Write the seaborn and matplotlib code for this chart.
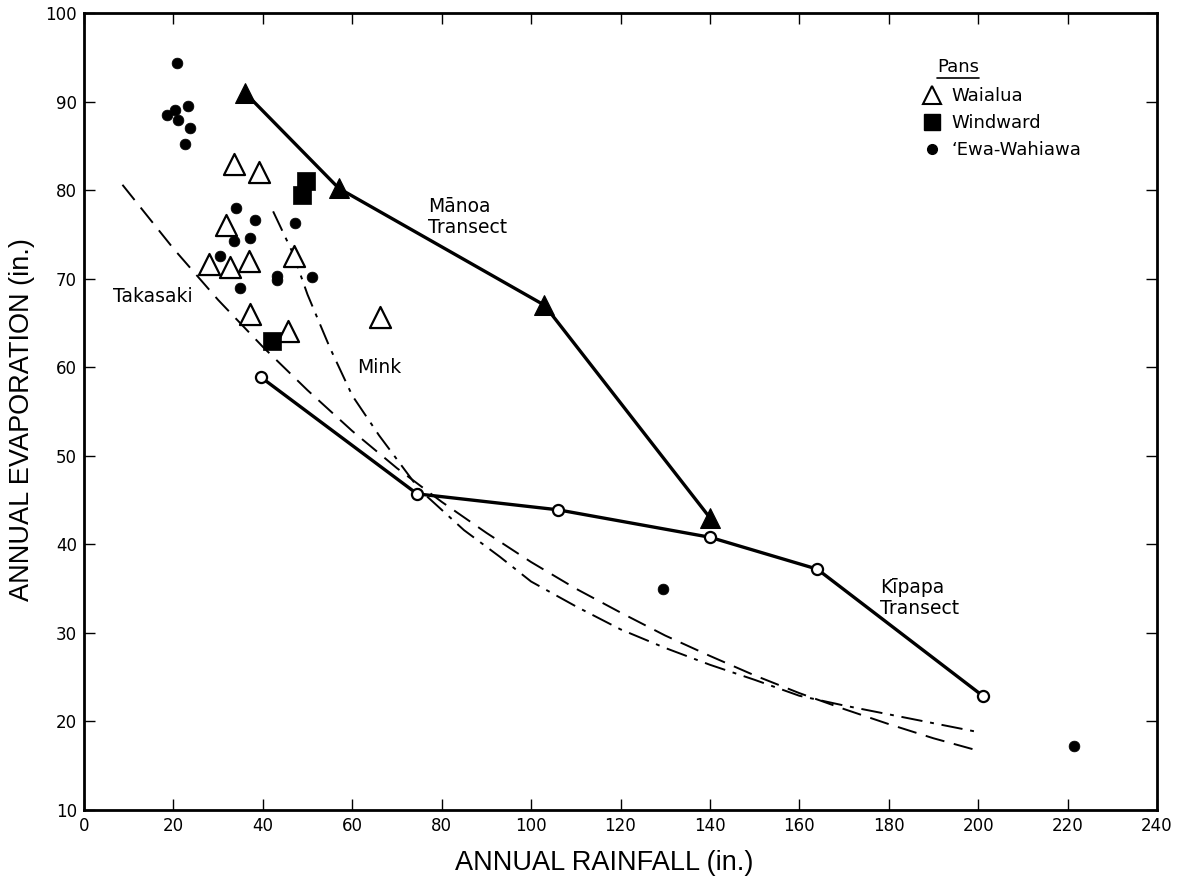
import matplotlib
matplotlib.use("Agg")
import matplotlib.pyplot as plt
import seaborn as sns
from matplotlib.lines import Line2D
from matplotlib import font_manager

# ---------------- data ----------------
manoa_rain = [36, 57, 103, 140]
manoa_evap = [91.0, 80.2, 67.0, 43.0]

kipapa_rain = [39.5, 74.5, 106, 140, 164, 201]
kipapa_evap = [58.9, 45.7, 43.9, 40.8, 37.2, 22.9]

waialua_rain = [33.6, 39.1, 31.8, 27.9, 32.6, 36.9, 46.9, 37.1, 45.6, 66.1]
waialua_evap = [83.0, 82.0, 76.1, 71.6, 71.3, 72.0, 72.6, 66.0, 64.1, 65.7]

windward_rain = [49.6, 48.7, 42.0]
windward_evap = [81.0, 79.4, 63.0]

ewa_rain = [20.8, 23.3, 20.3, 18.5, 21.0, 23.8, 22.6, 33.9, 38.3, 47.3,
            33.5, 37.1, 30.5, 43.1, 43.1, 51.0, 35.0, 129.5, 221.5]
ewa_evap = [94.4, 89.5, 89.1, 88.5, 87.9, 87.0, 85.2, 78.0, 76.6, 76.3,
            74.3, 74.6, 72.6, 70.3, 69.9, 70.2, 69.0, 35.0, 17.2]

takasaki_rain = [8.6, 20, 30, 40, 50, 60, 70, 80, 90, 100, 110, 120, 130,
                 140, 150, 160, 170, 180, 190, 200]
takasaki_evap = [80.6, 73.4, 67.6, 62.3, 57.4, 52.8, 48.6, 44.8, 41.3, 38.0,
                 35.0, 32.3, 29.7, 27.4, 25.2, 23.2, 21.4, 19.7, 18.1, 16.7]

mink_rain = [42.3, 46.7, 50, 55, 60, 66, 75, 85, 93, 100, 110, 120, 130,
             140, 150, 160, 170, 180, 190, 200]
mink_evap = [77.6, 72.9, 68.2, 62.2, 56.8, 52.3, 46.2, 41.6, 38.6, 35.8,
             33.0, 30.4, 28.3, 26.4, 24.7, 22.9, 21.8, 20.8, 19.8, 18.8]

x_ticks = [0, 20, 40, 60, 80, 100, 120, 140, 160, 180, 200, 220, 240]
y_ticks = [10, 20, 30, 40, 50, 60, 70, 80, 90, 100]

# ---------------- style ----------------
sns.set_style("ticks")
plt.rcParams["font.family"] = ["DejaVu Sans"]
plt.rcParams["axes.linewidth"] = 2.0
plt.rcParams["text.color"] = "black"
plt.rcParams["axes.labelcolor"] = "black"

names = {f.name for f in font_manager.fontManager.ttflist}
lab_family = ["Liberation Sans", "DejaVu Sans"] if "Liberation Sans" in names \
    else ["DejaVu Sans"]

fig = plt.figure(figsize=(11.81, 8.83), dpi=100)
ax = fig.add_axes([84 / 1181, 1 - 810 / 883, (1157 - 84) / 1181, (810 - 13) / 883])

# curves
sns.lineplot(x=takasaki_rain, y=takasaki_evap, ax=ax, color="black", lw=1.4,
             sort=False, estimator=None)
ax.lines[-1].set_dashes([10, 5])
sns.lineplot(x=mink_rain, y=mink_evap, ax=ax, color="black", lw=1.4,
             sort=False, estimator=None)
ax.lines[-1].set_dashes([11, 4, 2, 4])

# transects
sns.lineplot(x=manoa_rain, y=manoa_evap, ax=ax, color="black", lw=2.4,
             sort=False, estimator=None, marker="^", markersize=14,
             markeredgecolor="black", markerfacecolor="black")
sns.lineplot(x=kipapa_rain, y=kipapa_evap, ax=ax, color="black", lw=2.4,
             sort=False, estimator=None, marker="o", markersize=8,
             markeredgecolor="black", markerfacecolor="white",
             markeredgewidth=1.6)

# pans
sns.scatterplot(x=waialua_rain, y=waialua_evap, ax=ax, marker="^", s=230,
                facecolor="white", edgecolor="black", linewidth=1.6, zorder=3)
sns.scatterplot(x=windward_rain, y=windward_evap, ax=ax, marker="s", s=170,
                color="black", edgecolor="black", linewidth=0.5, zorder=3)
sns.scatterplot(x=ewa_rain, y=ewa_evap, ax=ax, marker="o", s=60,
                color="black", edgecolor="black", linewidth=0.5, zorder=3)

ax.set_xlim(0, 240)
ax.set_ylim(10, 100)
ax.set_xticks(x_ticks)
ax.set_yticks(y_ticks)
ax.tick_params(axis="both", which="both", direction="in", length=8, width=1.0,
               top=True, right=True, labelsize=12, pad=5, colors="black")
for s in ax.spines.values():
    s.set_visible(True)
    s.set_linewidth(2.0)
    s.set_color("black")

ax.set_xlabel("ANNUAL RAINFALL (in.)", fontsize=19.5, family=lab_family,
              color="black")
ax.set_ylabel("ANNUAL EVAPORATION (in.)", fontsize=19.5, family=lab_family,
              color="black")
ax.xaxis.set_label_coords(0.485, -0.05)
ax.yaxis.set_label_coords(-0.046, 0.49)

# annotations
ann = dict(fontsize=13.5, color="black", va="center", ha="left")
ax.text(6.5, 68, "Takasaki", **ann)
ax.text(61, 60, "Mink", **ann)
ax.text(77, 77.0, "M\u0101noa\nTransect", linespacing=1.15, **ann)
ax.text(178, 33.9, "K\u012bpapa\nTransect", linespacing=1.15, **ann)

# legend
handles = [
    Line2D([], [], ls="none", marker="^", markersize=13, markerfacecolor="white",
           markeredgecolor="black", markeredgewidth=1.5),
    Line2D([], [], ls="none", marker="s", markersize=12, markerfacecolor="black",
           markeredgecolor="black"),
    Line2D([], [], ls="none", marker="o", markersize=7, markerfacecolor="black",
           markeredgecolor="black"),
]
labels = ["Waialua", "Windward", "\u02bbEwa-Wahiawa"]
leg = ax.legend(handles, labels, loc="upper left", bbox_to_anchor=(0.775, 0.916),
                frameon=False, fontsize=13, handlelength=1.0, handletextpad=0.6,
                labelspacing=0.5, borderaxespad=0, labelcolor="black")
pans = ax.text(0.795, 0.921, "Pans", transform=ax.transAxes, fontsize=13,
               ha="left", va="bottom", color="black")
fig.canvas.draw()
bb = pans.get_window_extent().transformed(ax.transAxes.inverted())
ax.plot([bb.x0, bb.x1], [bb.y0 - 0.002, bb.y0 - 0.002], transform=ax.transAxes,
        color="black", lw=1.2, clip_on=False)

fig.savefig("out.png", dpi=100)
